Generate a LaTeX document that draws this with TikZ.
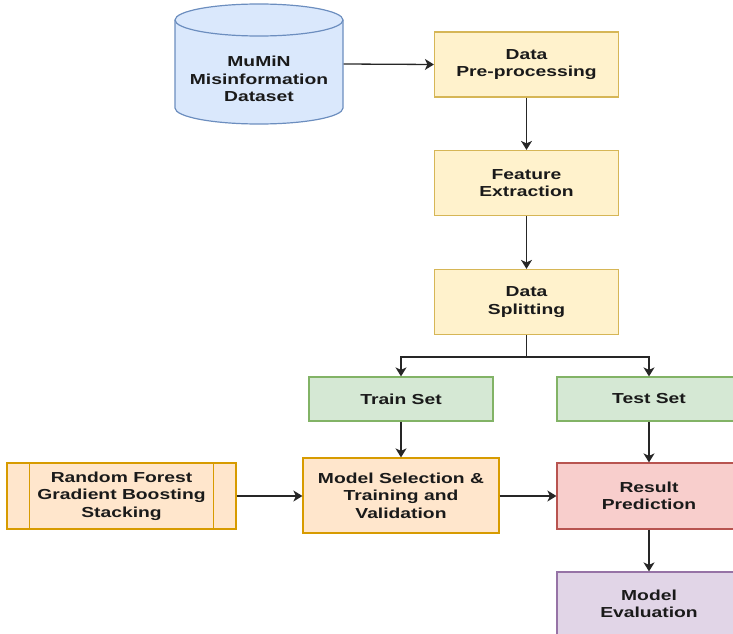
\documentclass[tikz,border=0pt]{standalone}
\usepackage{fontspec}
\newfontfamily\labfont{Liberation Sans}[FakeStretch=1.33]
\usetikzlibrary{arrows.meta}
\definecolor{yfill}{HTML}{FFF2CC}\definecolor{ydraw}{HTML}{D6B656}
\definecolor{bfill}{HTML}{DAE8FC}\definecolor{bdraw}{HTML}{6C8EBF}
\definecolor{gfill}{HTML}{D5E8D4}\definecolor{gdraw}{HTML}{82B366}
\definecolor{ofill}{HTML}{FFE6CC}\definecolor{odraw}{HTML}{D79B00}
\definecolor{rfill}{HTML}{F8CECC}\definecolor{rdraw}{HTML}{B85450}
\definecolor{pfill}{HTML}{E1D5E7}\definecolor{pdraw}{HTML}{9673A6}
\definecolor{txt}{HTML}{1A1A1A}
\tikzset{
  box/.style={rectangle, line width=1.2pt, align=center, inner sep=0pt,
    font=\labfont\bfseries\fontsize{14.5}{17.5}\selectfont, text=txt},
  ybox/.style={box, fill=yfill, draw=ydraw, minimum width=184pt, minimum height=65pt},
  gbox/.style={box, fill=gfill, draw=gdraw, minimum width=184pt, minimum height=44pt},
  obox/.style={box, fill=ofill, draw=odraw},
  rbox/.style={box, fill=rfill, draw=rdraw, minimum width=184pt, minimum height=66pt},
  pbox/.style={box, fill=pfill, draw=pdraw, minimum width=184pt, minimum height=64pt},
  conn/.style={draw=black!85, line width=1.3pt, -{Stealth[length=9pt,width=11pt,inset=2.5pt]}},
}
\begin{document}
\begin{tikzpicture}[x=1pt,y=-1pt]
\useasboundingbox (0,0) rectangle (733,634);
\clip (0,0) rectangle (733,634);
% cylinder
\filldraw[fill=bfill, draw=bdraw, line width=1.2pt]
  (175,20) -- (175,108) arc[start angle=180, end angle=360, x radius=84, y radius=-16]
  -- (343,20) arc[start angle=0, end angle=180, x radius=84, y radius=-16] -- cycle;
\draw[bdraw, line width=1.2pt] (175,20) arc[start angle=180, end angle=360, x radius=84, y radius=-16];
\node[box, minimum width=168pt, minimum height=120pt] (ds) at (259,64) {};
\node[box] (dstext) at (259,79) {MuMiN\\Misinformation\\Dataset};
\node[ybox] (pre) at (526.5,64.5) {Data\\Pre-processing};
\node[ybox] (feat) at (526.5,183) {Feature\\Extraction};
\node[ybox] (split) at (526.5,302) {Data\\Splitting};
\node[gbox] (train) at (401,399) {Train Set};
\node[gbox] (test) at (649,399) {Test Set};
\node[obox, minimum width=229pt, minimum height=66pt] (rf) at (121.5,496) {Random Forest\\Gradient Boosting\\Stacking};
\draw[odraw, line width=1.2pt] ([xshift=23pt]rf.north west) -- ([xshift=23pt]rf.south west)
  ([xshift=-23pt]rf.north east) -- ([xshift=-23pt]rf.south east);
\node[obox, minimum width=196pt, minimum height=75pt] (msel) at (401,495.5) {Model Selection \&\\Training and\\Validation};
\node[rbox] (res) at (649,496) {Result\\Prediction};
\node[pbox] (eval) at (649,604) {Model\\Evaluation};
% connectors
\draw[conn] (ds.east) -- (pre.west);
\draw[conn] (pre.south) -- (feat.north);
\draw[conn] (feat.south) -- (split.north);
\draw[conn] (split.south) -- ++(0,22) -| (train.north);
\draw[conn] (split.south) -- ++(0,22) -| (test.north);
\draw[conn] (train.south) -- (msel.north);
\draw[conn] (test.south) -- (res.north);
\draw[conn] (rf.east) -- (msel.west |- rf.east);
\draw[conn] (msel.east |- res.west) -- (res.west);
\draw[conn] (res.south) -- (eval.north);
\end{tikzpicture}
\end{document}
